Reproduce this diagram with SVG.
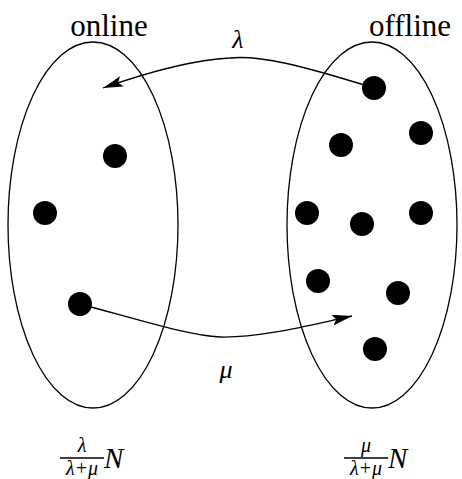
<svg xmlns="http://www.w3.org/2000/svg" width="462" height="479" viewBox="0 0 462 479">
<style>
.ell{fill:none;stroke:#000;stroke-width:1.3}
.dot{fill:#000}
.con{fill:none;stroke:#000;stroke-width:1.3}
text{font-family:'Liberation Serif','Times New Roman','DejaVu Serif',serif;fill:#000}
.lbl{font-size:31px}
.m{font-style:italic}
</style>
<defs>
<marker id="ah" viewBox="0 0 20 11" refX="20" refY="5.5" markerWidth="20" markerHeight="11" markerUnits="userSpaceOnUse" orient="auto">
<path d="M0,0 L20,5.5 L0,11 L4,5.5 z" fill="#000"/>
</marker>
</defs>
<rect width="462" height="479" fill="#fff"/>
<g id="online">
<ellipse class="ell" cx="93" cy="225" rx="85" ry="183"/>
<text class="lbl" x="109" y="36" text-anchor="middle">online</text>
<circle class="dot" cx="115" cy="156" r="12"/>
<circle class="dot" cx="45" cy="213" r="12"/>
<circle class="dot" cx="80" cy="304" r="12"/>
<text class="m" x="82" y="452" font-size="20" text-anchor="middle">λ</text>
<line x1="60" y1="458" x2="104" y2="458" stroke="#000" stroke-width="1.4"/>
<text class="m" x="82" y="475" font-size="20" text-anchor="middle">λ+μ</text>
<text class="m" x="104" y="468" font-size="29">N</text>
</g>
<g id="offline">
<ellipse class="ell" cx="372" cy="225" rx="85" ry="183"/>
<text class="lbl" x="410" y="36" text-anchor="middle">offline</text>
<circle class="dot" cx="374" cy="88" r="12"/>
<circle class="dot" cx="341" cy="145" r="12"/>
<circle class="dot" cx="421" cy="133" r="12"/>
<circle class="dot" cx="307" cy="213" r="12"/>
<circle class="dot" cx="362" cy="224" r="12"/>
<circle class="dot" cx="421" cy="213" r="12"/>
<circle class="dot" cx="318" cy="281" r="12"/>
<circle class="dot" cx="398" cy="293" r="12"/>
<circle class="dot" cx="375" cy="349" r="12"/>
<text class="m" x="366" y="452" font-size="20" text-anchor="middle">μ</text>
<line x1="344" y1="458" x2="388" y2="458" stroke="#000" stroke-width="1.4"/>
<text class="m" x="366" y="475" font-size="20" text-anchor="middle">λ+μ</text>
<text class="m" x="388" y="468" font-size="29">N</text>
</g>
<g id="connectors">
<path class="con" d="M374,88 C300,65 260,55 230,58 C190,60 140,75 103,88" marker-end="url(#ah)"/>
<text class="m" x="238" y="48" font-size="26" text-anchor="middle">λ</text>
<path class="con" d="M80,304 C140,320 190,336 220,337 C260,338 310,325 352,316" marker-end="url(#ah)"/>
<text class="m" x="226" y="378" font-size="26" text-anchor="middle">μ</text>
</g>
</svg>
